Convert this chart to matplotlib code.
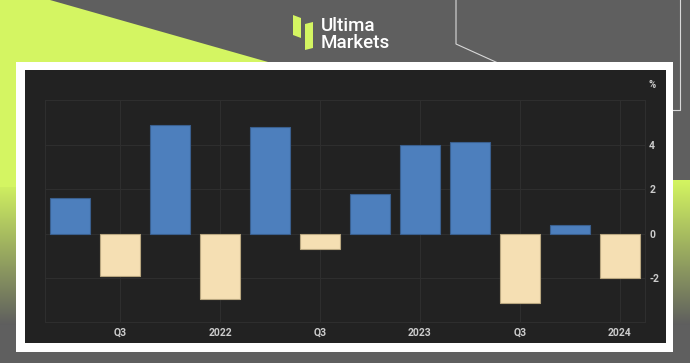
import numpy as np
import matplotlib.pyplot as plt
from matplotlib.patches import Rectangle, Polygon

# quarterly values, Q2 2021 .. Q1 2024 (%)
quarters = ["Q2 2021", "Q3 2021", "Q4 2021", "Q1 2022", "Q2 2022", "Q3 2022",
            "Q4 2022", "Q1 2023", "Q2 2023", "Q3 2023", "Q4 2023", "Q1 2024"]
values = [1.6, -1.9, 4.9, -2.9, 4.8, -0.7, 1.8, 4.0, 4.1, -3.1, 0.4, -2.0]
tick_idx = [1, 3, 5, 7, 9, 11]
tick_labels = ["Q3", "2022", "Q3", "2023", "Q3", "2024"]
y_ticks = [-2, 0, 2, 4]

plt.rcParams["axes.unicode_minus"] = False
plt.rcParams["font.family"] = ["Roboto", "DejaVu Sans"]

W, H = 690, 363
fig = plt.figure(figsize=(W / 100, H / 100), dpi=100)
fig.patch.set_facecolor("#5f5f5f")

# background decoration, pixel coords
bg = fig.add_axes([0, 0, 1, 1])
bg.set_xlim(0, W)
bg.set_ylim(H, 0)
bg.axis("off")
lime = "#d4f562"

# lower gradient band (lime fading to grey)
grad = np.linspace(0, 1, 256)[:, None]
c1 = np.array([0.83, 0.96, 0.38])
c2 = np.array([0.37, 0.37, 0.37])
img = c1[None, None, :] * (1 - grad[..., None]) + c2[None, None, :] * grad[..., None]
img = np.repeat(img, 2, axis=1)
im = bg.imshow(img, extent=[0, W, 325, 180], aspect="auto", zorder=1)
clip = Polygon([(0, 180), (673, 175), (W, 180), (W, 363), (0, 363)],
               closed=True, transform=bg.transData, facecolor="none",
               edgecolor="none")
bg.add_patch(clip)
im.set_clip_path(clip)
bg.add_patch(Rectangle((0, 325), W, 40, facecolor="#5f5f5f",
                       edgecolor="none", zorder=1))

# top-left lime triangle
bg.add_patch(Polygon([(0, 0), (50, 0), (268, 62), (300, 71), (300, 187),
                      (0, 187)], closed=True, facecolor=lime,
                     edgecolor="none", zorder=2))

# thin outline lines top right
bg.plot([456, 456, 540], [0, 44, 82], color="#d8d8d8", lw=0.8, zorder=2)
bg.plot([680, 680, 673], [0, 110, 110], color="#d8d8d8", lw=0.8, zorder=2)

# logo
bg.add_patch(Polygon([(293, 15), (301, 18), (301, 38), (293, 35)],
                     facecolor=lime, edgecolor="none", zorder=3))
bg.add_patch(Polygon([(305, 24), (313, 22), (313, 48), (305, 50)],
                     facecolor=lime, edgecolor="none", zorder=3))
bg.text(321, 48.5, "Ultima\nMarkets", color="white", fontsize=13.5,
        va="baseline", ha="left", zorder=3, fontweight="medium",
        linespacing=0.95)

# white frame and dark panel
bg.add_patch(Rectangle((16, 62), 657, 290, facecolor="white",
                       edgecolor="none", zorder=4))
bg.add_patch(Rectangle((25, 70), 641, 273, facecolor="#222222",
                       edgecolor="none", zorder=5))
bg.text(652, 85, "%", color="#cccccc", fontsize=7, ha="center",
        va="center", zorder=6, fontweight="bold")

# chart
ax = fig.add_axes([45 / W, (H - 322) / H, 600 / W, (322 - 100) / H])
ax.set_facecolor("#222222")
x = np.arange(len(values))
colors = ["#4d7fbd" if v >= 0 else "#f5dfb3" for v in values]
edges = ["#3a5f8e" if v >= 0 else "#b8a67f" for v in values]
ax.bar(x, values, width=0.8, color=colors, edgecolor=edges, linewidth=0.8,
       zorder=3)
ax.set_xlim(-0.5, 11.5)
ax.set_ylim(-3.95, 6.0)
ax.set_xticks(tick_idx)
ax.set_xticklabels(tick_labels)
ax.set_yticks(y_ticks)
ax.yaxis.tick_right()
ax.tick_params(axis="both", length=0, colors="#cccccc", labelsize=7.5)
ax.tick_params(axis="y", pad=3)
ax.tick_params(axis="x", pad=4)
for lab in ax.get_xticklabels() + ax.get_yticklabels():
    lab.set_fontweight("bold")
ax.grid(True, color="#2e2e2e", lw=0.8, zorder=0)
for s in ax.spines.values():
    s.set_color("#2e2e2e")

fig.savefig("out.png", dpi=100, facecolor=fig.get_facecolor())
